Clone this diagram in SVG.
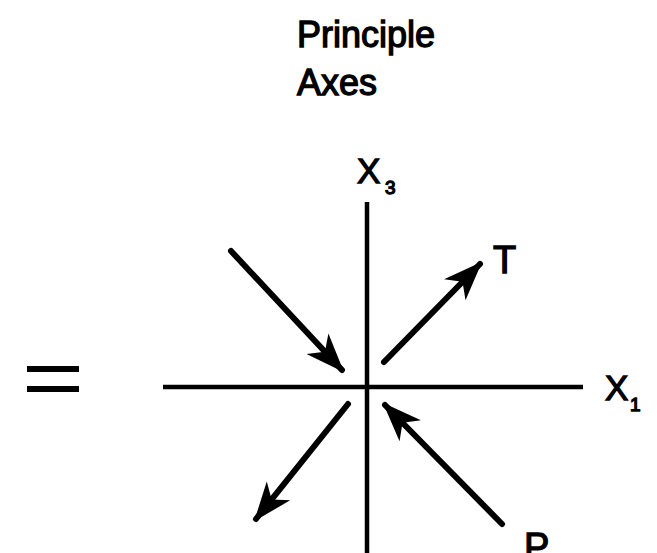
<svg xmlns="http://www.w3.org/2000/svg" width="657" height="553" viewBox="0 0 657 553">
<defs>
<style>
.t{font-family:"Liberation Sans",Arial,sans-serif;fill:#000;stroke:#000;stroke-width:1.3}
.ax{stroke:#000;stroke-width:4.5;fill:none}
.ar{stroke:#000;stroke-width:6;fill:none;stroke-linecap:round}
</style>
<marker id="ah" markerUnits="userSpaceOnUse" markerWidth="42" markerHeight="34" viewBox="-38 -17 42 34" refX="0" refY="0" orient="auto">
<path d="M3,0 L-36,-15 L-25,0 L-36,15 Z" fill="#000"/>
</marker>
</defs>
<rect width="657" height="553" fill="#fff"/>
<g id="title">
<text class="t" x="297" y="47" font-size="36">Principle</text>
<text class="t" x="297" y="95" font-size="36">Axes</text>
</g>
<g id="equals">
<line x1="27" y1="369" x2="79" y2="369" stroke="#000" stroke-width="6"/>
<line x1="27" y1="389" x2="79" y2="389" stroke="#000" stroke-width="6"/>
</g>
<g id="axes">
<line class="ax" x1="367" y1="202" x2="367" y2="553"/>
<line class="ax" x1="163" y1="387" x2="583" y2="387"/>
</g>
<g id="x3-label">
<text class="t" x="357" y="183" font-size="35">X</text>
<text class="t" x="385" y="194" font-size="19">3</text>
</g>
<g id="x1-label">
<text class="t" x="605" y="400" font-size="35">X</text>
<text class="t" x="630" y="411" font-size="19">1</text>
</g>
<g id="t-label">
<text class="t" x="493" y="273" font-size="38">T</text>
</g>
<g id="p-label">
<text class="t" x="524" y="560" font-size="38">P</text>
</g>
<g id="connectors">
<line class="ar" x1="384" y1="362" x2="480" y2="264" marker-end="url(#ah)"/>
<line class="ar" x1="231" y1="251" x2="342" y2="370" marker-end="url(#ah)"/>
<line class="ar" x1="348" y1="404" x2="256" y2="519" marker-end="url(#ah)"/>
<line class="ar" x1="502" y1="524" x2="385" y2="405" marker-end="url(#ah)"/>
</g>
</svg>
